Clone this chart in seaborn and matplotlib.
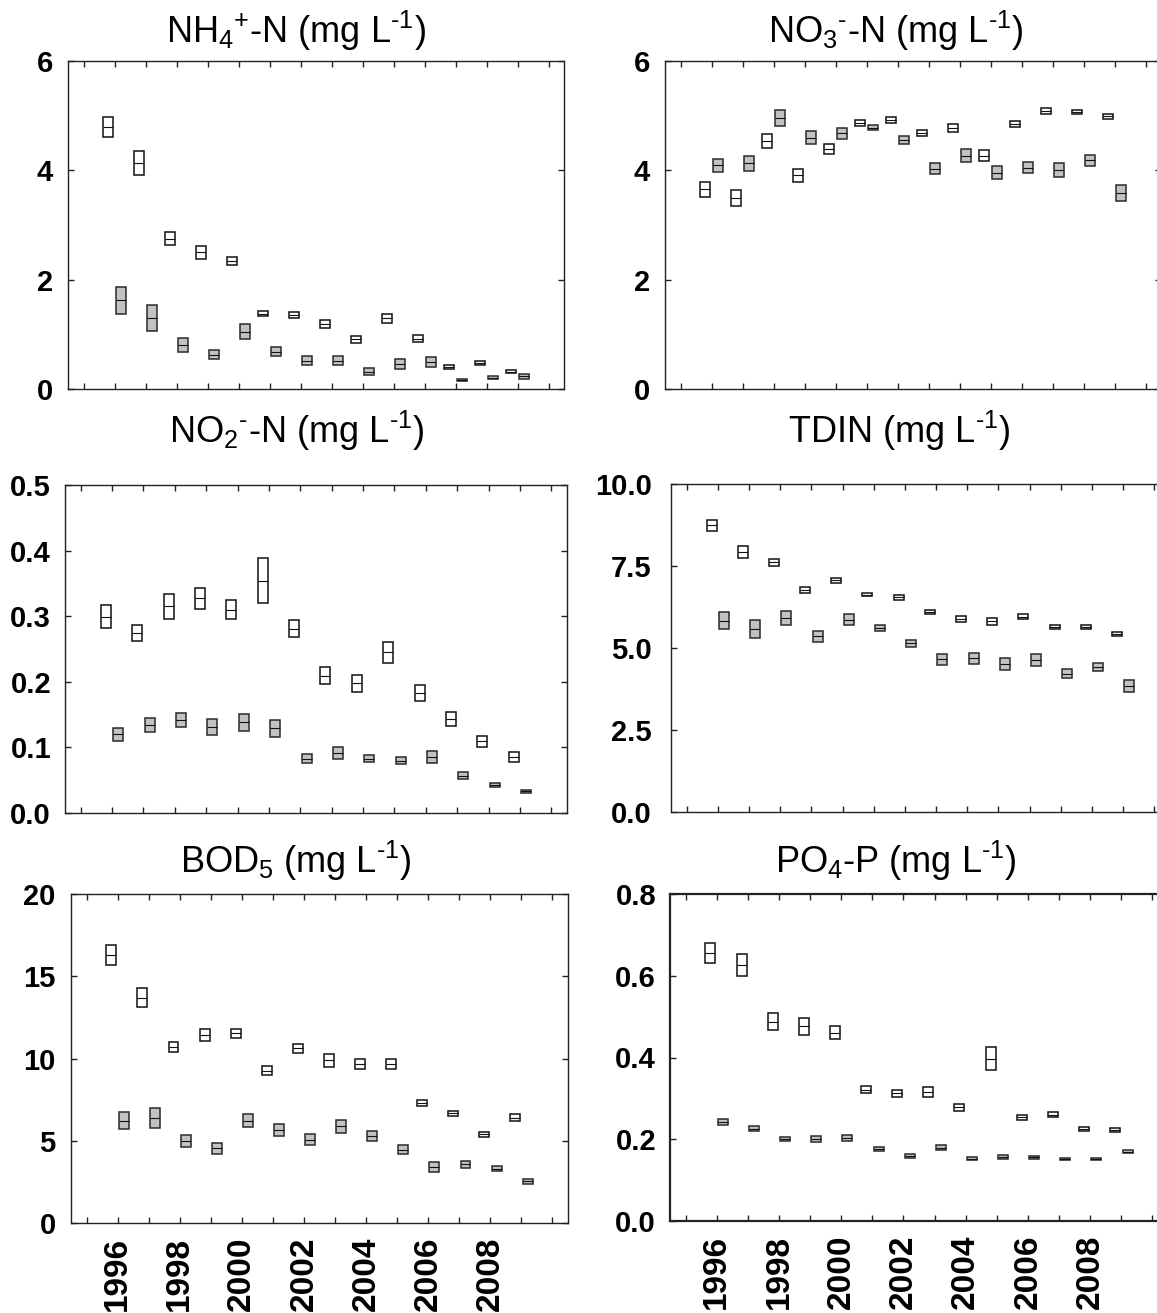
import numpy as np
import pandas as pd
import matplotlib
matplotlib.use("Agg")
import matplotlib.pyplot as plt
import seaborn as sns

# ---------------- data (mean and SE per year, two sites) ----------------
years = list(range(1996, 2010))
year_labels = ["1996", "1998", "2000", "2002", "2004", "2006", "2008"]

nh4_white_mean = [4.79, 4.14, 2.75, 2.50, 2.34, 1.38, 1.35, 1.19, 0.91, 1.29, 0.92, 0.40, 0.47, 0.32]
nh4_white_se = [0.18, 0.22, 0.12, 0.115, 0.07, 0.045, 0.055, 0.075, 0.065, 0.085, 0.065, 0.035, 0.04, 0.03]
nh4_gray_mean = [1.62, 1.30, 0.80, 0.63, 1.05, 0.68, 0.52, 0.52, 0.32, 0.46, 0.49, 0.16, 0.21, 0.23]
nh4_gray_se = [0.255, 0.23, 0.13, 0.09, 0.13, 0.085, 0.085, 0.085, 0.06, 0.085, 0.095, 0.02, 0.035, 0.045]

no3_white_mean = [3.65, 3.49, 4.54, 3.91, 4.39, 4.87, 4.92, 4.69, 4.77, 4.27, 4.85, 5.08, 5.07, 4.99]
no3_white_se = [0.14, 0.15, 0.13, 0.115, 0.09, 0.055, 0.055, 0.055, 0.075, 0.095, 0.055, 0.055, 0.04, 0.045]
no3_gray_mean = [4.09, 4.13, 4.96, 4.60, 4.68, 4.78, 4.55, 4.03, 4.27, 3.96, 4.05, 4.01, 4.18, 3.58]
no3_gray_se = [0.115, 0.14, 0.15, 0.12, 0.10, 0.05, 0.07, 0.10, 0.115, 0.125, 0.105, 0.125, 0.095, 0.15]

no2_white_mean = [0.299, 0.274, 0.315, 0.327, 0.310, 0.354, 0.281, 0.209, 0.198, 0.245, 0.183, 0.143, 0.109, 0.086]
no2_white_se = [0.0175, 0.012, 0.019, 0.016, 0.015, 0.034, 0.013, 0.013, 0.013, 0.016, 0.0125, 0.0105, 0.0085, 0.0075]
no2_gray_mean = [0.120, 0.134, 0.142, 0.131, 0.138, 0.129, 0.083, 0.092, 0.083, 0.080, 0.085, 0.057, 0.042, 0.033]
no2_gray_se = [0.010, 0.011, 0.011, 0.0125, 0.0125, 0.013, 0.007, 0.009, 0.006, 0.006, 0.0095, 0.005, 0.003, 0.0025]

tdin_white_mean = [8.74, 7.92, 7.61, 6.77, 7.06, 6.63, 6.55, 6.10, 5.88, 5.82, 5.96, 5.64, 5.64, 5.43]
tdin_white_se = [0.17, 0.19, 0.105, 0.085, 0.075, 0.05, 0.075, 0.07, 0.085, 0.105, 0.075, 0.06, 0.06, 0.065]
tdin_gray_mean = [5.83, 5.58, 5.91, 5.36, 5.86, 5.60, 5.15, 4.65, 4.68, 4.51, 4.63, 4.22, 4.43, 3.83]
tdin_gray_se = [0.255, 0.265, 0.21, 0.17, 0.165, 0.09, 0.105, 0.165, 0.155, 0.175, 0.175, 0.135, 0.125, 0.18]

bod_white_mean = [16.28, 13.70, 10.69, 11.42, 11.54, 9.27, 10.61, 9.88, 9.66, 9.68, 7.29, 6.66, 5.38, 6.40]
bod_white_se = [0.6, 0.565, 0.3, 0.365, 0.27, 0.25, 0.275, 0.375, 0.305, 0.305, 0.18, 0.17, 0.125, 0.225]
bod_gray_mean = [6.23, 6.38, 5.00, 4.53, 6.21, 5.67, 5.06, 5.87, 5.30, 4.45, 3.40, 3.58, 3.30, 2.53]
bod_gray_se = [0.5, 0.635, 0.37, 0.355, 0.395, 0.375, 0.32, 0.39, 0.285, 0.285, 0.33, 0.215, 0.15, 0.17]

po4_white_mean = [0.655, 0.627, 0.488, 0.476, 0.461, 0.321, 0.313, 0.316, 0.278, 0.397, 0.254, 0.260, 0.225, 0.223]
po4_white_se = [0.0245, 0.027, 0.020, 0.021, 0.0155, 0.009, 0.0085, 0.0125, 0.0085, 0.028, 0.0065, 0.0065, 0.006, 0.0055]
po4_gray_mean = [0.243, 0.226, 0.201, 0.201, 0.203, 0.176, 0.159, 0.179, 0.152, 0.157, 0.156, 0.151, 0.152, 0.170]
po4_gray_se = [0.007, 0.0065, 0.005, 0.0075, 0.0065, 0.0045, 0.0045, 0.006, 0.0035, 0.0045, 0.004, 0.0025, 0.0025, 0.0045]

HY = "\u2010"  # typographic hyphen, so mathtext does not turn it into a long minus
titles = [
    "NH$_4$$^{+}$-N (mg L$^{" + HY + "1}$)",
    "NO$_3$$^{" + HY + "}$-N (mg L$^{" + HY + "1}$)",
    "NO$_2$$^{" + HY + "}$-N (mg L$^{" + HY + "1}$)",
    "TDIN (mg L$^{" + HY + "1}$)",
    "BOD$_5$ (mg L$^{" + HY + "1}$)",
    "PO$_4$-P (mg L$^{" + HY + "1}$)",
]

# ---------------- style ----------------
sns.set_theme(style="ticks")
plt.rcParams["font.family"] = ["Liberation Sans", "DejaVu Sans"]
plt.rcParams["mathtext.fontset"] = "custom"
plt.rcParams["mathtext.rm"] = "Liberation Sans"
plt.rcParams["mathtext.it"] = "Liberation Sans:italic"
plt.rcParams["mathtext.bf"] = "Liberation Sans:bold"
for k in ["text.color", "axes.labelcolor", "xtick.color", "ytick.color"]:
    plt.rcParams[k] = "black"

W, H = 1157, 1313
fig = plt.figure(figsize=(W / 100, H / 100), dpi=100)

# panel geometry in pixels: left, top, width, bottom
panels = [
    dict(rect=(68, 61, 496, 389), ylim=(0, 6), yticks=[0, 2, 4, 6], fmt="{:.0f}",
         white=(nh4_white_mean, nh4_white_se), gray=(nh4_gray_mean, nh4_gray_se),
         title_xy=(296, 43), spine=1.0, ypad=11),
    dict(rect=(665, 61, 496, 389), ylim=(0, 6), yticks=[0, 2, 4, 6], fmt="{:.0f}",
         white=(no3_white_mean, no3_white_se), gray=(no3_gray_mean, no3_gray_se),
         title_xy=(896, 43), spine=1.0, ypad=11),
    dict(rect=(65, 485, 502, 813), ylim=(0, 0.5), yticks=[0, 0.1, 0.2, 0.3, 0.4, 0.5], fmt="{:.1f}",
         white=(no2_white_mean, no2_white_se), gray=(no2_gray_mean, no2_gray_se),
         title_xy=(297, 443), spine=1.0, ypad=10),
    dict(rect=(671, 484, 499, 812), ylim=(0, 10), yticks=[0, 2.5, 5, 7.5, 10], fmt="{:.1f}",
         white=(tdin_white_mean, tdin_white_se), gray=(tdin_gray_mean, tdin_gray_se),
         title_xy=(899, 443), spine=1.0, ypad=14),
    dict(rect=(71, 894, 497, 1223), ylim=(0, 20), yticks=[0, 5, 10, 15, 20], fmt="{:.0f}",
         white=(bod_white_mean, bod_white_se), gray=(bod_gray_mean, bod_gray_se),
         title_xy=(296, 873), spine=1.0, ypad=11),
    dict(rect=(670, 894, 498, 1221), ylim=(0, 0.8), yticks=[0, 0.2, 0.4, 0.6, 0.8], fmt="{:.1f}",
         white=(po4_white_mean, po4_white_se), gray=(po4_gray_mean, po4_gray_se),
         title_xy=(896, 873), spine=1.6, ypad=10),
]

box_w = 0.32
off = 0.2
xt = list(range(1995, 2011))

for i, p in enumerate(panels):
    l, t, w, b = p["rect"]
    ax = fig.add_axes([l / W, 1 - b / H, w / W, (b - t) / H])
    ax.set_facecolor("white")
    x = np.array(years, dtype=float)

    for (mean, se), dx, fc, ec in [
        (p["white"], -off, "white", "#111111"),
        (p["gray"], off, "#c2c2c2", "#2a2a2a"),
    ]:
        mean = np.asarray(mean)
        se = np.asarray(se)
        ax.bar(x + dx, 2 * se, bottom=mean - se, width=box_w, color=fc,
               edgecolor=ec, linewidth=1.1, zorder=3)
        ax.hlines(mean, x + dx - box_w / 2, x + dx + box_w / 2, colors="#111111",
                  linewidth=0.8, zorder=4)

    ax.set_xlim(1994.5, 2010.5)
    ax.set_ylim(*p["ylim"])
    ax.set_xticks(xt)
    if i >= 4:
        ax.set_xticklabels([str(y) if str(y) in year_labels else "" for y in xt],
                           rotation=90, fontsize=24, fontweight="bold", color="black")
    else:
        ax.set_xticklabels([])
    ax.set_yticks(p["yticks"])
    ax.set_yticklabels([p["fmt"].format(v) for v in p["yticks"]],
                       fontsize=21, fontweight="bold", color="black")
    ax.tick_params(axis="both", direction="in", top=True, right=True,
                   length=4, width=1.0, color="#222222")
    ax.tick_params(axis="x", pad=10)
    ax.tick_params(axis="y", pad=p["ypad"])
    for s in ax.spines.values():
        s.set_color("#222222")
        s.set_linewidth(p["spine"])
    ax.grid(False)

    tx, ty = p["title_xy"]
    fig.text(tx / W, 1 - ty / H, titles[i], ha="center", va="baseline",
             fontsize=26, color="black")

fig.savefig("out.png", dpi=100)
